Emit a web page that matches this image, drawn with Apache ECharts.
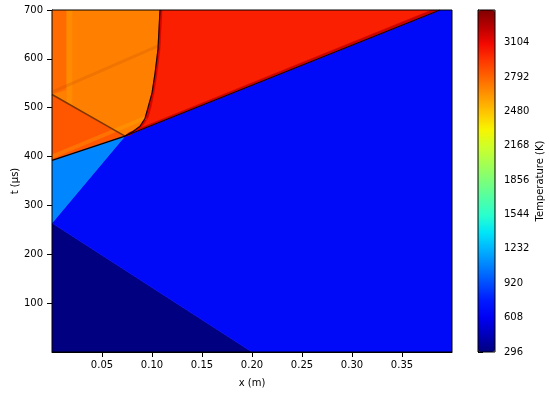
<!DOCTYPE html>
<html><head><meta charset="utf-8">
<script src="https://cdn.jsdelivr.net/npm/echarts@6/dist/echarts.min.js"></script>
<style>html,body{margin:0;padding:0;background:#fff}#c{width:550px;height:400px}</style>
</head><body><div id="c"></div>
<script>
// ---- data (x in m, t in µs, temperature in K) ----
const T_MIN = 296, T_MAX = 3400;
const cbarTicks = [296, 608, 920, 1232, 1544, 1856, 2168, 2480, 2792, 3104];
const xTicks = [0.05, 0.10, 0.15, 0.20, 0.25, 0.30, 0.35];
const yTicks = [100, 200, 300, 400, 500, 600, 700];

const contactSurface = [[0.073,442],[0.080,450],[0.088,462],[0.093,478],[0.096,500],[0.100,530],[0.103,570],[0.106,620],[0.107,660],[0.108,700]];
const contactLayerOuter = [[0.077,443],[0.084,451],[0.091,464],[0.096,480],[0.099,501],[0.102,531],[0.105,571],[0.108,621],[0.109,660],[0.110,700]];
const unshockedGas = [[0,0],[0.2,0],[0,264]];
const incidentShockedGas = [[0.2,0],[0.4,0],[0.4,700],[0.388,700],[0.073,442],[0,264]];
const reflectedShockGas = [[0,264],[0.073,442],[0,392]];
const behindDetonation = [[0,392],[0.073,442],[0,527]];
const burnedBehindShockHead = [[0.073,442],[0.388,700]];
const burnedNearWallHead = [[0,527],[0.073,442]];
const shockHeatedLayer = [[0.073,442],[0.388,700],[0.380,700],[0.077,449]];
const wallLayer = [[0,527],[0.014,537],[0.014,700],[0,700]];
const wallStripe = [[0.015,510],[0.020,504],[0.020,700],[0.015,700]];

const detonationFront = [[0,392],[0.073,442]];
const leadShock = [[0.073,442],[0.388,700]];
const leftRunningShock = [[0,527],[0.073,442]];
const wallWave = [[0,532],[0.108,628]];
const secondaryWave = [[0,400],[0.094,480]];

const regionTemps = [296, 662, 1090, 2840, 3020, 2700, 3200, 3170, 2770, 2660];

// ---- build polygons ----
const rev = a => a.slice().reverse();
const regionPolys = [
  unshockedGas,
  incidentShockedGas,
  reflectedShockGas,
  behindDetonation,
  burnedBehindShockHead.concat([[0.108,700]], rev(contactSurface).slice(1)),
  burnedNearWallHead.concat(contactSurface.slice(1), [[0,700]]),
  shockHeatedLayer,
  contactSurface.concat(rev(contactLayerOuter)),
  wallLayer,
  wallStripe
];

const JET = ['#000080','#0000b9','#0000f4','#001aff','#004dff','#0080ff','#00b3ff','#00e6f7','#29ffce','#52ffa4','#7bff7b','#a4ff52','#ceff29','#f7f500','#ffc600','#ff9700','#ff6800','#ff3900','#f40900','#b90000','#800000'];

const FONT = 'DejaVu Sans';
const chart = echarts.init(document.getElementById('c'), null, {renderer:'canvas'});

function lineSeries(data, color, width, opacity) {
  return {
    type:'line', xAxisIndex:0, yAxisIndex:0, data:data, showSymbol:false, silent:true,
    lineStyle:{color:color, width:width, opacity:opacity}, z:5, animation:false
  };
}

chart.setOption({
  animation:false,
  backgroundColor:'#fff',
  grid:[
    {left:52, top:10, width:400, height:342, outerBoundsMode:'none', containLabel:false, show:true, borderColor:'#000', borderWidth:1, backgroundColor:'transparent', z:10},
    {left:478, top:10, width:17, height:342, outerBoundsMode:'none', containLabel:false, show:true, borderColor:'#000', borderWidth:1, backgroundColor:'transparent', z:10}
  ],
  xAxis:[
    {type:'value', gridIndex:0, min:0, max:0.4, splitLine:{show:false},
     axisLine:{show:true, lineStyle:{color:'#000', width:1}},
     axisTick:{show:true, length:5, customValues:xTicks, lineStyle:{color:'#000'}},
     axisLabel:{customValues:xTicks, formatter:v=>v.toFixed(2), fontSize:10, color:'#000', fontFamily:FONT, margin:8},
     name:'x (m)', nameLocation:'middle', nameGap:26, nameMoveOverlap:false, nameTextStyle:{fontSize:10, color:'#000', fontFamily:FONT}},
    {type:'value', gridIndex:1, min:0, max:1, show:false}
  ],
  yAxis:[
    {type:'value', gridIndex:0, min:0, max:700, splitLine:{show:false},
     axisLine:{show:true, lineStyle:{color:'#000', width:1}},
     axisTick:{show:true, length:5, customValues:yTicks, lineStyle:{color:'#000'}},
     axisLabel:{customValues:yTicks, formatter:v=>String(v), fontSize:10, color:'#000', fontFamily:FONT, margin:9},
     name:'t (\u03bcs)', nameLocation:'middle', nameGap:32, nameMoveOverlap:false, nameRotate:90, nameTextStyle:{fontSize:10, color:'#000', fontFamily:FONT}},
    {type:'value', gridIndex:1, position:'right', min:T_MIN, max:T_MAX, splitLine:{show:false},
     axisLine:{show:true, lineStyle:{color:'#000', width:1}},
     axisTick:{show:true, length:5, customValues:cbarTicks, lineStyle:{color:'#000'}},
     axisLabel:{customValues:cbarTicks, formatter:v=>String(v), fontSize:10, color:'#000', fontFamily:FONT, margin:9},
     name:'Temperature (K)', nameLocation:'middle', nameGap:40, nameMoveOverlap:false, nameRotate:90, nameTextStyle:{fontSize:10, color:'#000', fontFamily:FONT}}
  ],
  visualMap:{
    type:'continuous', min:T_MIN, max:T_MAX, seriesIndex:0, dimension:0,
    inRange:{color:JET}, calculable:false, show:true, hoverLink:false,
    left:478, top:10, itemWidth:17, itemHeight:342, padding:0, text:null,
    textStyle:{fontSize:0}
  },
  series:[
    {type:'custom', xAxisIndex:0, yAxisIndex:0, clip:true, silent:true, z:2,
     data: regionTemps.map(t => [t]),
     encode:{x:-1, y:-1},
     renderItem:function(params, api){
       const pts = regionPolys[params.dataIndex].map(p => api.coord(p));
       const c = api.visual('color');
       return {type:'polygon', shape:{points:pts}, style:{fill:c, stroke:c, lineWidth:0.6}};
     }},
    lineSeries(secondaryWave, '#ffb000', 4, 0.3),
    lineSeries(wallWave, '#b84000', 3, 0.2),
    lineSeries(leftRunningShock, '#6a2800', 1.5, 0.85),
    lineSeries(contactSurface, '#200600', 1.2, 1),
    lineSeries(detonationFront, '#000', 1.3, 1),
    lineSeries(leadShock, '#000', 1, 1)
  ]
});
</script></body></html>
